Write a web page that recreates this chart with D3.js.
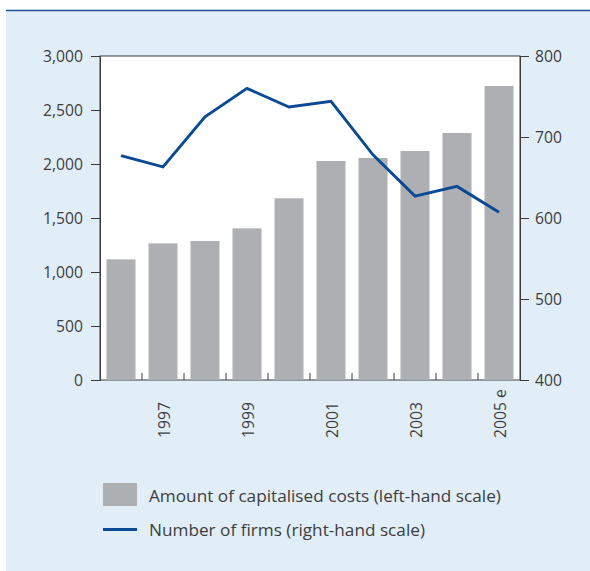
<!DOCTYPE html>
<html>
<head>
<meta charset="utf-8">
<script src="https://cdn.jsdelivr.net/npm/d3@7"></script>
<style>
  body { margin: 0; background: #ffffff; }
  svg { display: block; font-family: "Open Sans", "Noto Sans", sans-serif; }
</style>
</head>
<body>
<div id="chart"></div>
<script>
// Data
const years = ["1996", "1997", "1998", "1999", "2000", "2001", "2002", "2003", "2004", "2005 e"];
const shownYears = ["1997", "1999", "2001", "2003", "2005 e"];
const costs = [1117, 1265, 1287, 1404, 1682, 2028, 2056, 2120, 2287, 2722];
const firms = [677, 663, 725, 760, 737, 744, 678, 627, 639, 607];
const leftTicks = [0, 500, 1000, 1500, 2000, 2500, 3000];
const rightTicks = [400, 500, 600, 700, 800];
const legendLabels = ["Amount of capitalised costs (left-hand scale)", "Number of firms (right-hand scale)"];

const width = 590, height = 571;
const plot = { left: 100, right: 520, top: 56, bottom: 380 };
const textColor = "#3d3d3d";
const barColor = "#aeafb3";
const lineColor = "#0a4a94";

const svg = d3.select("#chart")
  .append("svg")
  .attr("width", width)
  .attr("height", height);

// panel background + top rule
svg.append("rect")
  .attr("x", 6).attr("y", 10)
  .attr("width", width - 6).attr("height", height - 10)
  .attr("fill", "#e1eef7");
svg.append("line")
  .attr("x1", 6).attr("x2", width)
  .attr("y1", 10.5).attr("y2", 10.5)
  .attr("stroke", "#1d4f91")
  .attr("stroke-width", 1.5);

// plot area
svg.append("rect")
  .attr("x", plot.left).attr("y", plot.top)
  .attr("width", plot.right - plot.left).attr("height", plot.bottom - plot.top)
  .attr("fill", "#ffffff")
  .attr("stroke", "#3a3a3a")
  .attr("stroke-width", 1);

// scales
const x = d3.scaleBand()
  .domain(years)
  .range([plot.left, plot.right])
  .paddingInner(0.31)
  .paddingOuter(0.155);

const yLeft = d3.scaleLinear().domain([0, 3000]).range([plot.bottom, plot.top]);
const yRight = d3.scaleLinear().domain([400, 800]).range([plot.bottom, plot.top]);

// bars
svg.append("g")
  .selectAll("rect")
  .data(costs)
  .enter()
  .append("rect")
  .attr("x", (d, i) => x(years[i]))
  .attr("y", d => yLeft(d))
  .attr("width", x.bandwidth())
  .attr("height", d => yLeft(0) - yLeft(d))
  .attr("fill", barColor);

// line
const line = d3.line()
  .x((d, i) => x(years[i]) + x.bandwidth() / 2)
  .y(d => yRight(d));

svg.append("path")
  .datum(firms)
  .attr("fill", "none")
  .attr("stroke", lineColor)
  .attr("stroke-width", 2.9)
  .attr("stroke-linejoin", "miter")
  .attr("d", line);

// left axis
const leftAxis = svg.append("g")
  .attr("transform", `translate(${plot.left},0)`)
  .call(d3.axisLeft(yLeft)
    .tickValues(leftTicks)
    .tickFormat(d3.format(","))
    .tickSize(9)
    .tickPadding(8));

// right axis
const rightAxis = svg.append("g")
  .attr("transform", `translate(${plot.right},0)`)
  .call(d3.axisRight(yRight)
    .tickValues(rightTicks)
    .tickSize(9)
    .tickPadding(6));

[leftAxis, rightAxis].forEach(g => {
  g.select(".domain").attr("stroke", "#3a3a3a");
  g.selectAll(".tick line").attr("stroke", "#3a3a3a");
  g.selectAll(".tick text")
    .attr("fill", textColor)
    .style("font-size", "15.7px")
    .style("font-family", "'Open Sans', sans-serif");
});

// bottom ticks between bars (pointing inward)
const step = x.step();
svg.append("g")
  .selectAll("line")
  .data(years.slice(1))
  .enter()
  .append("line")
  .attr("x1", d => x(d) - (step - x.bandwidth()) / 2)
  .attr("x2", d => x(d) - (step - x.bandwidth()) / 2)
  .attr("y1", plot.bottom)
  .attr("y2", plot.bottom - 7)
  .attr("stroke", "#3a3a3a");

// rotated year labels
svg.append("g")
  .selectAll("text")
  .data(shownYears)
  .enter()
  .append("text")
  .attr("transform", d => `translate(${x(d) + x.bandwidth() / 2 + 7},438) rotate(-90)`)
  .attr("text-anchor", "start")
  .attr("fill", textColor)
  .style("font-size", "15.7px")
  .text(d => d);

// legend
const legend = svg.append("g");
legend.append("rect")
  .attr("x", 103).attr("y", 483)
  .attr("width", 34).attr("height", 23)
  .attr("fill", barColor);
legend.append("line")
  .attr("x1", 103).attr("x2", 137)
  .attr("y1", 529.5).attr("y2", 529.5)
  .attr("stroke", lineColor)
  .attr("stroke-width", 3);
legend.selectAll("text")
  .data(legendLabels)
  .enter()
  .append("text")
  .attr("x", 149)
  .attr("y", (d, i) => 502 + i * 34)
  .attr("fill", textColor)
  .style("font-size", "17.2px")
  .text(d => d);
</script>
</body>
</html>
